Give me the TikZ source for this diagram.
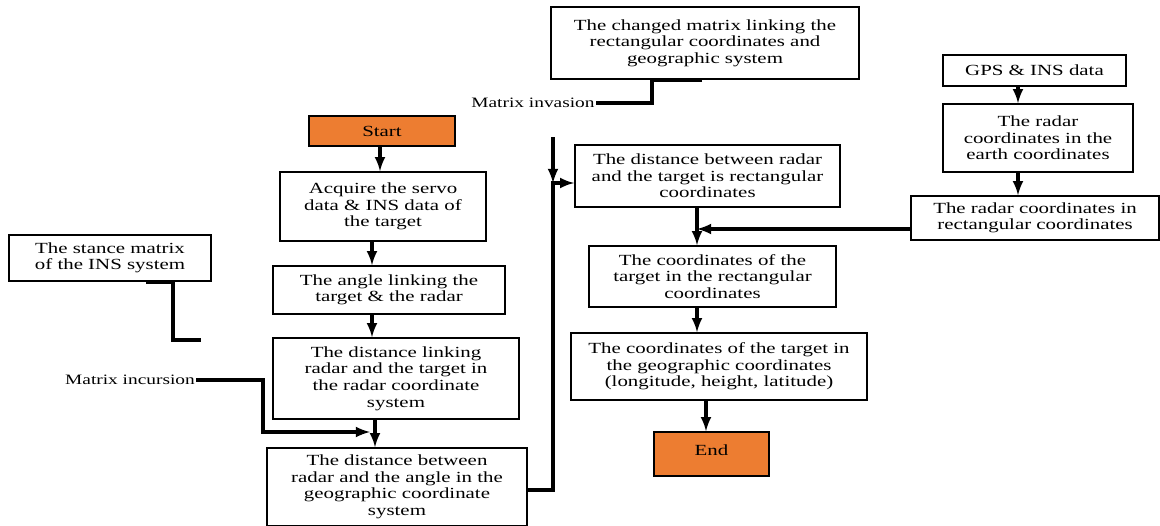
\documentclass[tikz,border=0pt]{standalone}
\usepackage{fontspec}
\setmainfont{Liberation Serif}
\newfontfamily\boxfont{Liberation Serif}[FakeStretch=1.35]
\usepackage{xcolor}
\usepackage{tikz}
\definecolor{termorange}{HTML}{ED7D31}

\begin{document}
\begin{tikzpicture}[x=0.025cm, y=-0.025cm,
	box/.style={draw, line width=1.2pt, align=center, inner sep=1pt, font=\boxfont\fontsize{11}{11.8}\selectfont},
	term/.style={box, fill=termorange},
	note/.style={font=\boxfont\fontsize{10.2}{11}\selectfont, inner sep=1pt},
	link/.style={line width=2.4pt, -latex},
	line/.style={line width=2.4pt}]
				\useasboundingbox (0,0) rectangle (1160,526);
				
				% left column
				\node [term, minimum width=3.65cm, minimum height=0.75cm] (start) at (382,131) {Start};
				\node [box, minimum width=5.15cm, minimum height=1.725cm] (acq) at (383,206.5) {Acquire the servo\\ data \& INS data of\\ the target};
				\node [box, minimum width=5.8cm, minimum height=1.2cm] (ang) at (389,290) {The angle linking the\\ target \& the radar};
				\node [box, minimum width=6.15cm, minimum height=2.025cm] (dlink) at (396,378.5) {The distance linking\\ radar and the target in\\ the radar coordinate\\ system};
				\node [box, minimum width=6.5cm, minimum height=1.95cm] (dgeo) at (397,487) {The distance between\\ radar and the angle in the\\ geographic coordinate\\ system};
				\node [box, minimum width=5.05cm, minimum height=1.15cm] (stance) at (110,258) {The stance matrix\\ of the INS system};
				\node [note] (inc) at (130,380) {Matrix incursion};
				
				% middle column
				\node [box, minimum width=7.7cm, minimum height=1.8cm] (chg) at (705,43) {The changed matrix linking the\\ rectangular coordinates and\\ geographic system};
				\node [note] (inv) at (533,103) {Matrix invasion};
				\node [box, minimum width=6.625cm, minimum height=1.55cm] (drect) at (707.5,176) {The distance between radar\\ and the target is rectangular\\ coordinates};
				\node [box, minimum width=6.175cm, minimum height=1.525cm] (crect) at (712.5,276.5) {The coordinates of the\\ target in the rectangular\\ coordinates};
				\node [box, minimum width=7.4cm, minimum height=1.675cm] (cgeo) at (719,366.5) {The coordinates of the target in\\ the geographic coordinates\\ (longitude, height, latitude)};
				\node [term, minimum width=2.875cm, minimum height=1.1cm] (end) at (711.5,454) {\raisebox{0.2cm}{End}};
				
				% right column
				\node [box, minimum width=4.575cm, minimum height=0.775cm] (gps) at (1034.5,70.5) {GPS \& INS data};
				\node [box, minimum width=4.75cm, minimum height=1.7cm] (earth) at (1038,138) {The radar\\ coordinates in the\\ earth coordinates};
				\node [box, minimum width=6.2cm, minimum height=1.1cm] (rrect) at (1035,218) {The radar coordinates in\\ rectangular coordinates};
				
				\coordinate (sm) at (201,340);
				\coordinate (mi) at (370,432);
				\coordinate (top) at (553,137);
				\coordinate (jn) at (553,183);
				\coordinate (mg) at (697,229);
				
				\draw [link] (start.south -| 380,0) -- (acq.north -| 380,0);
				\draw [link] (acq.south -| 372,0) -- (ang.north -| 372,0);
				\draw [link] (ang.south -| 372,0) -- (dlink.north -| 372,0);
				\draw [link] (dlink.south -| 375,0) -- (dgeo.north -| 375,0);
				\draw [link] (inc.east) -| (263,432) -- (mi);
				\draw [line] (stance.south -| 146,0) -| (173,340) -- (sm);
				
				\draw [line] (chg.south -| 702,0) -| (652,103) -- (inv.east);
				\draw [link] (dgeo.east |- 0,490) -| (jn) -- (jn -| drect.west);
				\draw [link] (top) -- (jn);
				\draw [link] (drect.south -| 697,0) -- (crect.north -| 697,0);
				\draw [link] (rrect.west |- mg) -- (mg);
				\draw [link] (crect.south -| 697,0) -- (cgeo.north -| 697,0);
				\draw [link] (cgeo.south -| 706,0) -- (end.north -| 706,0);
				
				\draw [link] (gps.south -| 1018,0) -- (earth.north -| 1018,0);
				\draw [link] (earth.south -| 1018,0) -- (rrect.north -| 1018,0);
				\end{tikzpicture}
\end{document}
